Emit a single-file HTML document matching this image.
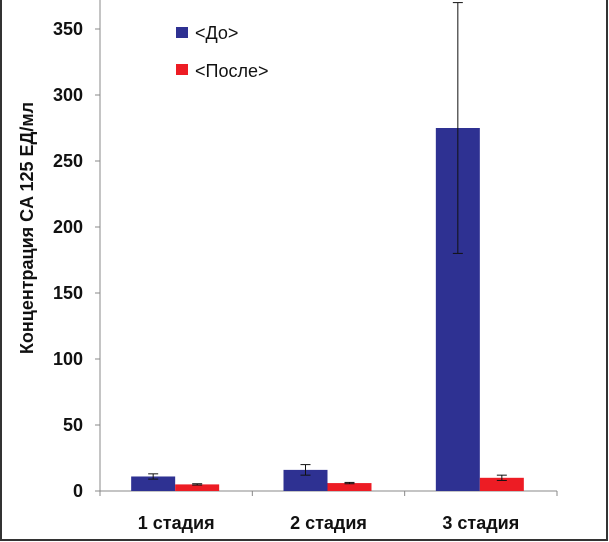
<!DOCTYPE html>
<html><head><meta charset="utf-8"><style>
html,body{margin:0;padding:0;background:#fff;}
svg{display:block;font-family:"Liberation Sans","DejaVu Sans",sans-serif;}
</style></head><body>
<svg id="chart" width="609" height="542" viewBox="0 0 609 542">
<rect x="1" y="-2" width="606" height="542" fill="#fff" stroke="#333" stroke-width="2"/>
<g id="axes"></g>
<g id="bars"></g>
<text transform="translate(33,228) rotate(-90)" text-anchor="middle" font-size="18" font-weight="bold" fill="#111">Концентрация CA 125 ЕД/мл</text>
<g>
<g>
<rect x="176" y="27" width="12" height="11" fill="#2e3192"/>
<text x="195" y="39" font-size="18" fill="#111">&lt;До&gt;</text>
</g>
<g>
<rect x="176" y="64" width="12" height="11" fill="#ed1c24"/>
<text x="195" y="77" font-size="18" fill="#111">&lt;После&gt;</text>
</g>
</g>
</svg>
<script>
const categories = ["1 стадия", "2 стадия", "3 стадия"];
const beforeValues = [11, 16, 275];
const beforeErrors = [2, 4, 95];
const afterValues = [5, 6, 10];
const afterErrors = [0.5, 0.5, 2];
const yTicks = [0, 50, 100, 150, 200, 250, 300, 350];

const NS = "http://www.w3.org/2000/svg";
const x0 = 100, x1 = 557, y0 = 491, yTop = 29, yMaxVal = 350;
function yScale(v){ return y0 - (v / yMaxVal) * (y0 - yTop); }
const band = (x1 - x0) / categories.length;
function xBand(i){ return x0 + i * band; }
const barW = 44;

function mk(tag, attrs, parent){
  const e = document.createElementNS(NS, tag);
  for (const k in attrs) e.setAttribute(k, attrs[k]);
  parent.appendChild(e);
  return e;
}
const axes = document.getElementById("axes");
const bars = document.getElementById("bars");

const yAxis = mk("line", {x1:x0, y1:0, x2:x0, y2:y0, stroke:"#888", "stroke-width":1}, axes);


const xAxis = mk("line", {x1:x0, y1:y0, x2:x1, y2:y0, stroke:"#888", "stroke-width":1}, axes);



yTicks.forEach(t => {
  const y = yScale(t);
  mk("line", {x1:x0-5, y1:y, x2:x0, y2:y, stroke:"#888"}, axes);
  const lbl = mk("text", {x:83, y:y+6, "text-anchor":"end", "font-size":"18", "font-weight":"600", fill:"#111"}, axes);
  lbl.textContent = t;
  
  
});
for (let i = 0; i <= categories.length; i++) {
  const x = xBand(i);
  mk("line", {x1:x, y1:y0, x2:x, y2:y0+5, stroke:"#888"}, axes);
}
categories.forEach((c, i) => {
  const cx = xBand(i) + band / 2;
  const lbl = mk("text", {x:cx, y:529, "text-anchor":"middle", "font-size":"18", "font-weight":"600", fill:"#111"}, axes);
  lbl.textContent = c;
  
  

  const series = [[beforeValues, beforeErrors, "#2e3192", "bar-before"], [afterValues, afterErrors, "#ed1c24", "bar-after"]];
  series.forEach((s, j) => {
    const v = s[0][i], err = s[1][i];
    const bx = cx - barW - 1 + j * barW;
    const r = mk("rect", {x:bx, y:yScale(v), width:barW, height:y0 - yScale(v), fill:s[2]}, bars);
    
    
    const ex = bx + barW / 2;
    const g = mk("g", {stroke:"#111", "stroke-width":1}, bars);
    
    
    const top = Math.max(yScale(v + err), 2);
    mk("line", {x1:ex, y1:top, x2:ex, y2:yScale(v - err)}, g);
    mk("line", {x1:ex-5, y1:top, x2:ex+5, y2:top}, g);
    mk("line", {x1:ex-5, y1:yScale(v - err), x2:ex+5, y2:yScale(v - err)}, g);
  });
});
</script>
</body></html>
